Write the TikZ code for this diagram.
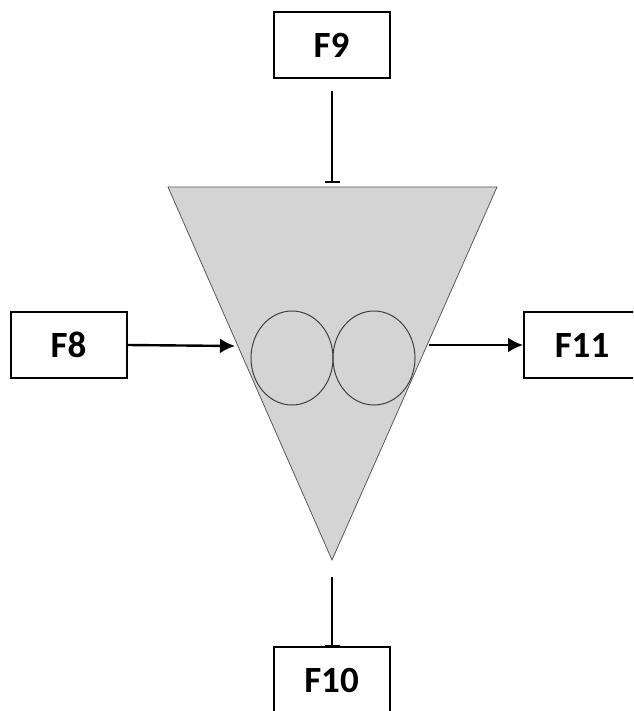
\documentclass[tikz,border=0pt]{standalone}
\usepackage{fontspec}
\setmainfont{Carlito}
\usetikzlibrary{arrows.meta}
\usetikzlibrary{shapes}
\tikzset{
  flowbox/.style={shape=rectangle,draw=black,line width=2pt,fill=white,minimum width=116pt,minimum height=66pt,inner sep=0pt,font=\fontsize{37}{37}\selectfont\bfseries},
  roller/.style={shape=ellipse,draw=black!75,line width=1pt,minimum width=82pt,minimum height=94pt,inner sep=0pt},
  inflow/.style={line width=2.4pt,-{Latex[length=15pt,width=15pt]}},
  barflow/.style={line width=2.4pt,-{Bar[width=15pt,line width=2.4pt]}}
}
\newcommand{\flowbox}[4]{\node[flowbox] (#1) at ( #2 , #3 ) {#4};}
\newcommand{\roller}[3]{\node[roller] (#1) at ( #2 , #3 ) {};}
\begin{document}
\begin{tikzpicture}[x=1pt,y=-1pt]
\useasboundingbox (0,0) rectangle (633,711);
\clip (0,0) rectangle (633,711);
% hopper
\coordinate (hopperleft) at (168,187);
\coordinate (hopperright) at (497,187);
\coordinate (hoppertip) at (332,560);
\draw[draw=black!65,line width=0.8pt,fill=black!17] (hopperleft) -- (hopperright) -- (hoppertip) -- cycle;
% rollers
\roller{rollerleft}{292}{358}
\roller{rollerright}{374}{358}
% boxes
\flowbox{F9}{331.5}{45}{F9}
\flowbox{F8}{68.5}{345}{F8}
\flowbox{F11}{582}{345}{F11}
\flowbox{F10}{331.5}{680}{F10}
% free ends of the arrows
\coordinate (topstart) at (332,91);
\coordinate (topend) at (332,183);
\coordinate (bottomstart) at (332,577);
\coordinate (bottomend) at (332,647);
\coordinate (leftend) at (235,346);
\coordinate (rightstart) at (429,345);
% arrows
\draw[barflow] (topstart) -- (topend);
\draw[barflow] (bottomstart) -- (bottomend);
\draw[inflow] (F8.east) -- (leftend);
\draw[inflow] (rightstart) -- (F11.west);
\end{tikzpicture}
\end{document}
